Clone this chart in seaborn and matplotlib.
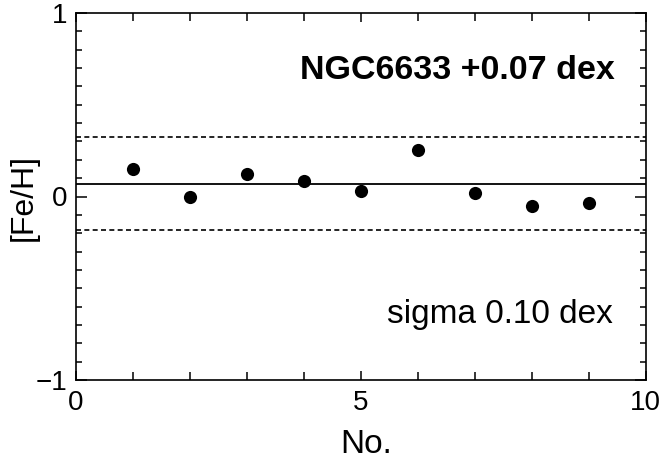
import numpy as np
import pandas as pd
import matplotlib
matplotlib.use("Agg")
import matplotlib.pyplot as plt
import seaborn as sns
from matplotlib.ticker import MultipleLocator

star_no = [1, 2, 3, 4, 5, 6, 7, 8, 9]
fe_h = [0.15, 0.00, 0.123, 0.087, 0.03, 0.252, 0.02, -0.05, -0.038]
mean_feh = 0.07
upper_lim = 0.325
lower_lim = -0.185
title_text = "NGC6633 +0.07 dex"
sigma_text = "sigma 0.10 dex"

sns.set_style("ticks")
plt.rcParams['font.family'] = ['Liberation Sans', 'DejaVu Sans']
plt.rcParams['text.color'] = 'black'
plt.rcParams['axes.labelcolor'] = 'black'
plt.rcParams['xtick.color'] = 'black'
plt.rcParams['ytick.color'] = 'black'

df = pd.DataFrame({"No.": star_no, "[Fe/H]": fe_h})

W, H = 663, 459
L, R, T, B = 75.5, 645.7, 13, 380
fig = plt.figure(figsize=(W / 100, H / 100), dpi=100)
ax = fig.add_axes([L / W, 1 - B / H, (R - L) / W, (B - T) / H])

sns.scatterplot(data=df, x="No.", y="[Fe/H]", ax=ax, color="black", s=90,
                edgecolor="black", linewidth=0, zorder=3)

ax.axhline(mean_feh, color="black", lw=1.3)
ax.axhline(upper_lim, color="black", lw=1.2, ls=(0, (3, 2)))
ax.axhline(lower_lim, color="black", lw=1.2, ls=(0, (3, 2)))

ax.set_xlim(0, 10)
ax.set_ylim(-1, 1)
ax.xaxis.set_major_locator(MultipleLocator(5))
ax.xaxis.set_minor_locator(MultipleLocator(1))
ax.yaxis.set_minor_locator(MultipleLocator(0.1))
ax.set_yticks([-1, 0, 1])
ax.set_yticklabels(["\u22121", "0", "1"])

ax.tick_params(which="both", direction="in", top=True, right=True, width=1.1,
               labelsize=20, colors="black")
ax.tick_params(axis="x", which="major", length=6.5, pad=7)
ax.tick_params(axis="x", which="minor", length=5.8)
ax.tick_params(axis="y", which="major", length=8, pad=6)
ax.tick_params(axis="y", which="minor", length=4.3)
for sp in ax.spines.values():
    sp.set_linewidth(1.2)
    sp.set_color("black")

ax.set_xlabel("No.", fontsize=24)
ax.set_ylabel("[Fe/H]", fontsize=23)
ax.xaxis.label.set(ha="center", va="baseline")
ax.yaxis.label.set(ha="center", va="center")
ax.xaxis.set_label_coords((366 - L) / (R - L), (B - 453) / (B - T))
ax.yaxis.set_label_coords((24 - L) / (R - L), 1 - (197.5 - T) / (B - T))

ax.text(9.45, 0.640, title_text, ha="right", va="baseline", fontsize=24.5,
        fontweight="bold")
ax.text(9.42, -0.689, sigma_text, ha="right", va="baseline", fontsize=24)

fig.savefig("out.png", dpi=100)
